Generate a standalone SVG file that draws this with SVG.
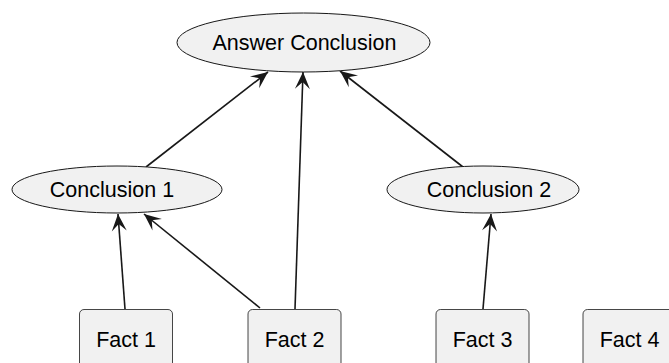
<svg xmlns="http://www.w3.org/2000/svg" width="669" height="363" viewBox="0 0 669 363">
  <defs>
    <style>
      .uc { fill: #F1F1F1; stroke: #181818; stroke-width: 1; }
      .box { fill: #F1F1F1; stroke: #181818; stroke-width: 0.8; }
      .lbl { font-family: "Liberation Sans", Arial, sans-serif; font-size: 21.5px; fill: #000000; text-anchor: middle; }
      .edge { stroke: #181818; stroke-width: 1.6; fill: none; marker-end: url(#head); }
    </style>
    <marker id="head" markerUnits="userSpaceOnUse" viewBox="-18 -9 19 18" refX="0" refY="0" markerWidth="19" markerHeight="18" orient="auto">
      <path d="M0,0 L-17,-7.5 L-10,0 L-17,7.5 Z" fill="#181818"/>
    </marker>
  </defs>
  <rect width="669" height="363" fill="#FFFFFF"/>

  <g id="connectors">
    <line class="edge" x1="146" y1="167" x2="268" y2="72"/>
    <line class="edge" x1="295" y1="309" x2="303" y2="72"/>
    <line class="edge" x1="463" y1="167" x2="340" y2="71"/>
    <line class="edge" x1="125" y1="309" x2="118" y2="214"/>
    <line class="edge" x1="260" y1="308" x2="144" y2="214"/>
    <line class="edge" x1="483" y1="309" x2="491" y2="214"/>
  </g>

  <g id="answer-conclusion">
    <ellipse class="uc" cx="303.5" cy="42.5" rx="126.5" ry="29.5"/>
    <text class="lbl" x="304.5" y="50">Answer Conclusion</text>
  </g>
  <g id="conclusion-1">
    <ellipse class="uc" cx="117" cy="189.5" rx="105" ry="23.5"/>
    <text class="lbl" x="112" y="197">Conclusion 1</text>
  </g>
  <g id="conclusion-2">
    <ellipse class="uc" cx="483" cy="189.5" rx="96" ry="23.5"/>
    <text class="lbl" x="489" y="197">Conclusion 2</text>
  </g>
  <g id="fact-1">
    <rect class="box" x="79.5" y="309.5" width="93" height="70" rx="4.5"/>
    <text class="lbl" x="126" y="347">Fact 1</text>
  </g>
  <g id="fact-2">
    <rect class="box" x="248" y="309.5" width="93" height="70" rx="4.5"/>
    <text class="lbl" x="294.5" y="347">Fact 2</text>
  </g>
  <g id="fact-3">
    <rect class="box" x="436" y="309.5" width="93" height="70" rx="4.5"/>
    <text class="lbl" x="482.5" y="347">Fact 3</text>
  </g>
  <g id="fact-4">
    <rect class="box" x="583" y="309.5" width="93" height="70" rx="4.5"/>
    <text class="lbl" x="629.5" y="347">Fact 4</text>
  </g>
</svg>
